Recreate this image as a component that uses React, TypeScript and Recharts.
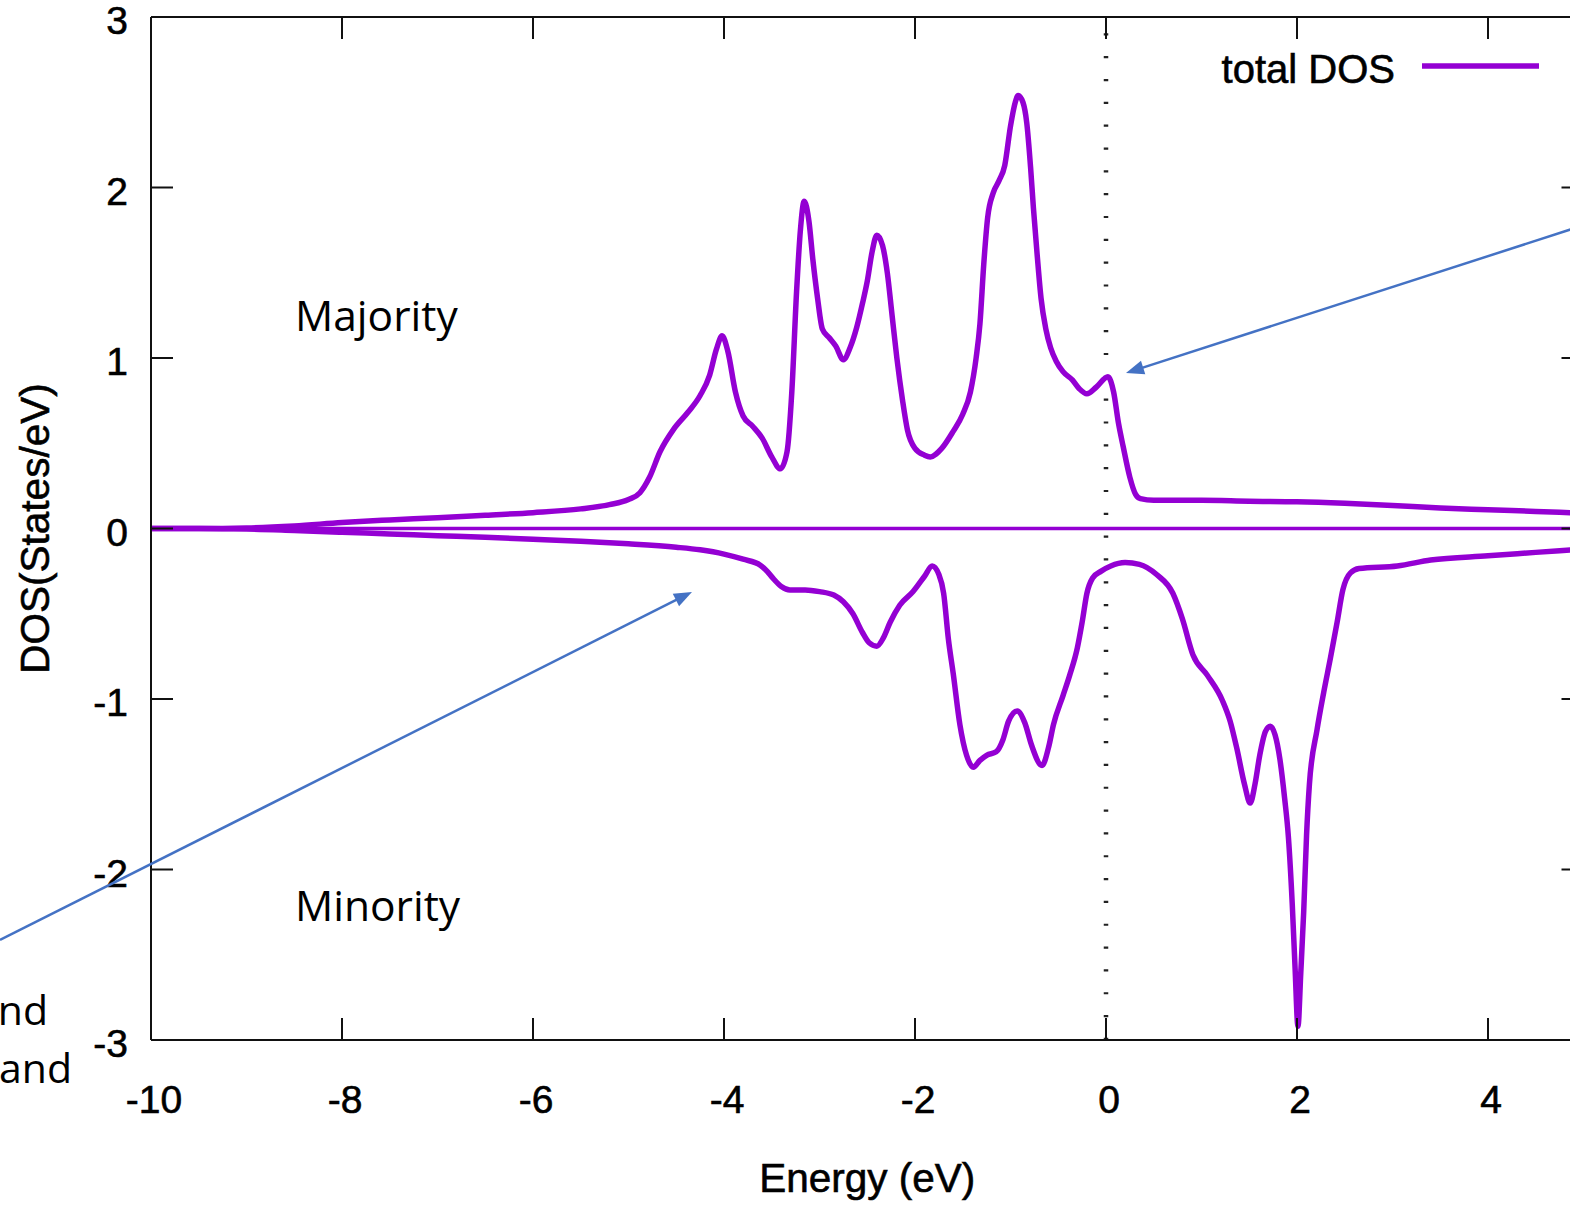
import React from 'react';
import { LineChart, Line, XAxis, YAxis, ReferenceLine, Legend } from 'recharts';

// ---- data ----
const majorityEnergy = [
  -10, -9.5, -9.0, -8.5, -8.0, -7.5, -7.0, -6.5, -6.0, -5.5, -5.2, -5.0, -4.88, -4.78, -4.67, -4.53, -4.38, -4.25,
  -4.15, -4.08, -4.02, -3.96, -3.88, -3.8, -3.7, -3.6, -3.5, -3.41, -3.34, -3.29, -3.24, -3.2, -3.16, -3.11, -3.07,
  -3.02, -2.97, -2.9, -2.83, -2.75, -2.68, -2.61, -2.55, -2.5, -2.45, -2.4, -2.34, -2.29, -2.24, -2.19, -2.13, -2.08,
  -2.0, -1.9, -1.84, -1.72, -1.6, -1.5, -1.42, -1.36, -1.32, -1.28, -1.24, -1.18, -1.12, -1.06, -1.0, -0.95, -0.92,
  -0.87, -0.83, -0.79, -0.76, -0.72, -0.68, -0.63, -0.58, -0.52, -0.45, -0.35, -0.28, -0.2, -0.1, 0.02, 0.08, 0.13,
  0.18, 0.25, 0.31, 0.36, 0.5, 1.0, 1.5, 2.0, 2.5, 3.0, 3.5, 4.0, 4.5, 5.0,
];
const majorityDOS = [
  0, 0, 0.003, 0.015, 0.035, 0.05, 0.063, 0.078, 0.093, 0.115, 0.14, 0.17, 0.21, 0.3, 0.45, 0.58, 0.68, 0.78,
  0.9, 1.05, 1.13, 1.04, 0.8, 0.66, 0.6, 0.53, 0.42, 0.35, 0.45, 0.8, 1.39, 1.75, 1.92, 1.8, 1.58,
  1.35, 1.17, 1.12, 1.07, 0.99, 1.06, 1.18, 1.32, 1.45, 1.62, 1.72, 1.66, 1.5, 1.25, 1.0, 0.75, 0.58,
  0.47, 0.43, 0.42, 0.47, 0.57, 0.67, 0.8, 1.0, 1.2, 1.55, 1.82, 1.97, 2.04, 2.13, 2.36, 2.5, 2.54,
  2.5, 2.38, 2.12, 1.88, 1.6, 1.35, 1.17, 1.06, 0.98, 0.92, 0.87, 0.82, 0.79, 0.83, 0.89, 0.8, 0.62,
  0.48, 0.3, 0.2, 0.175, 0.165, 0.165, 0.16, 0.157, 0.148, 0.135, 0.12, 0.11, 0.1, 0.09,
];
const minorityEnergy = [
  -10, -9.5, -9.0, -8.5, -8.0, -7.5, -7.0, -6.5, -6.0, -5.5, -5.0, -4.5, -4.25, -4.0, -3.8, -3.62, -3.55, -3.49,
  -3.4, -3.31, -3.15, -3.0, -2.85, -2.75, -2.65, -2.55, -2.48, -2.4, -2.33, -2.26, -2.16, -2.02, -1.9, -1.82, -1.75,
  -1.7, -1.65, -1.6, -1.53, -1.46, -1.39, -1.32, -1.25, -1.15, -1.08, -1.02, -0.93, -0.85, -0.78, -0.67, -0.6, -0.55,
  -0.45, -0.38, -0.3, -0.25, -0.2, -0.14, -0.05, 0.05, 0.2, 0.35, 0.53, 0.7, 0.8, 0.91, 1.06, 1.22, 1.3, 1.37, 1.45,
  1.51, 1.56, 1.61, 1.67, 1.72, 1.77, 1.82, 1.87, 1.91, 1.95, 1.98, 2.01, 2.04, 2.07, 2.1, 2.13, 2.21, 2.28, 2.35,
  2.42, 2.48, 2.56, 2.65, 3.05, 3.4, 4.0, 4.5, 5.0,
];
const minorityDOS = [
  0, 0, -0.003, -0.012, -0.022, -0.032, -0.042, -0.052, -0.063, -0.075, -0.09, -0.11, -0.125, -0.15, -0.18, -0.215, -0.25, -0.29,
  -0.34, -0.36, -0.36, -0.37, -0.39, -0.43, -0.5, -0.61, -0.67, -0.69, -0.64, -0.55, -0.45, -0.37, -0.28, -0.22, -0.27,
  -0.38, -0.65, -0.85, -1.15, -1.33, -1.4, -1.36, -1.33, -1.31, -1.24, -1.13, -1.07, -1.14, -1.27, -1.39, -1.28, -1.15,
  -0.98, -0.86, -0.7, -0.55, -0.38, -0.29, -0.25, -0.22, -0.2, -0.21, -0.27, -0.38, -0.53, -0.74, -0.86, -1.01, -1.13, -1.29, -1.5,
  -1.61, -1.5, -1.33, -1.19, -1.16, -1.21, -1.35, -1.58, -1.81, -2.2, -2.58, -2.92, -2.6, -2.25, -1.8, -1.5, -1.18, -0.96, -0.76,
  -0.55, -0.36, -0.26, -0.235, -0.22, -0.185, -0.16, -0.14, -0.12,
];
const xTicks = [-10, -8, -6, -4, -2, 0, 2, 4];
const yTicks = [-3, -2, -1, 0, 1, 2, 3];
const xDomain = [-10, 5];
const yDomain = [-3, 3];

const majorityData = majorityEnergy.map((e, i) => ({ e, dos: majorityDOS[i] }));
const minorityData = minorityEnergy.map((e, i) => ({ e, dos: minorityDOS[i] }));

const PURPLE = '#9400D3';
const BLUE = '#4472C4';
const AXIS = '#111';
const GP_FONT = '"Liberation Sans", Arial, Helvetica, sans-serif';
const OFFICE_FONT = '"Open Sans", "Noto Sans", sans-serif';
const W = 1620;
const H = 1206;
const TICK = 22;
const GP_TEXT = { fontFamily: GP_FONT, fill: '#000', stroke: '#000', strokeWidth: 0.6 };

const BottomTick = (props: any) => {
  const { x, y, payload } = props;
  return (
    <g>
      <line x1={x} x2={x} y1={y} y2={y - TICK} stroke={AXIS} strokeWidth={2} />
      <text x={x + 3} y={y + 73} textAnchor="middle" fontSize={39} {...GP_TEXT}>
        {payload.value}
      </text>
    </g>
  );
};
const TopTick = (props: any) => {
  const { x, y } = props;
  return <line x1={x} x2={x} y1={y} y2={y + TICK} stroke={AXIS} strokeWidth={2} />;
};
const LeftTick = (props: any) => {
  const { x, y, payload } = props;
  return (
    <g>
      <line x1={x} x2={x + TICK} y1={y} y2={y} stroke={AXIS} strokeWidth={2} />
      <text x={x - 23} y={y + 17} textAnchor="end" fontSize={39} {...GP_TEXT}>
        {payload.value}
      </text>
    </g>
  );
};
const RightTick = (props: any) => {
  const { x, y } = props;
  return <line x1={x} x2={x - TICK} y1={y} y2={y} stroke={AXIS} strokeWidth={2} />;
};

const renderLegend = () => (
  <svg width={360} height={80} style={{ display: 'block', overflow: 'visible' }}>
    <text x={215} y={60} textAnchor="end" fontSize={40} {...GP_TEXT}>
      total DOS
    </text>
    <line x1={242} x2={359} y1={43} y2={43} stroke={PURPLE} strokeWidth={5.5} />
  </svg>
);

function arrowHead(sx: number, sy: number, tx: number, ty: number, len = 18, half = 7) {
  const dx = tx - sx;
  const dy = ty - sy;
  const d = Math.hypot(dx, dy);
  const ux = dx / d;
  const uy = dy / d;
  const bx = tx - ux * len;
  const by = ty - uy * len;
  const px = -uy * half;
  const py = ux * half;
  return {
    line: { x1: sx, y1: sy, x2: bx + ux * 2, y2: by + uy * 2 },
    points: `${tx},${ty} ${bx + px},${by + py} ${bx - px},${by - py}`,
  };
}

const arrowUpper = arrowHead(1600, 220, 1126, 373);
const arrowLower = arrowHead(0, 940, 692, 592);

export default function App() {
  return (
    <div
      style={{
        position: 'absolute',
        left: 0,
        top: 0,
        width: 1570,
        height: 1206,
        overflow: 'hidden',
        background: '#fff',
      }}
    >
      <LineChart width={W} height={H} margin={{ top: 7, right: 26.5, bottom: 106, left: 51 }}>
        <XAxis
          dataKey="e"
          type="number"
          domain={xDomain}
          ticks={xTicks}
          interval={0}
          allowDataOverflow
          height={60}
          tickSize={0}
          tickMargin={0}
          tickLine={false}
          tick={<BottomTick />}
          axisLine={{ stroke: AXIS, strokeWidth: 2 }}
          label={{
            content: (p: any) => {
              const vb = p.viewBox || { x: 151, y: 1040, width: 1432 };
              return (
                <text
                  x={vb.x + vb.width / 2}
                  y={vb.y + 152}
                  textAnchor="middle"
                  fontSize={40.5}
                  {...GP_TEXT}
                >
                  Energy (eV)
                </text>
              );
            },
          }}
        />
        <XAxis
          xAxisId="top"
          orientation="top"
          dataKey="e"
          type="number"
          domain={xDomain}
          ticks={xTicks}
          interval={0}
          allowDataOverflow
          height={10}
          tickSize={0}
          tickMargin={0}
          tickLine={false}
          tick={<TopTick />}
          axisLine={{ stroke: AXIS, strokeWidth: 2 }}
        />
        <YAxis
          type="number"
          domain={yDomain}
          ticks={yTicks}
          interval={0}
          allowDataOverflow
          width={100}
          tickSize={0}
          tickMargin={0}
          tickLine={false}
          tick={<LeftTick />}
          axisLine={{ stroke: AXIS, strokeWidth: 2 }}
          label={{
            content: (p: any) => {
              const vb = p.viewBox || { x: 51, y: 17, width: 100, height: 1023 };
              const cx = vb.x - 2;
              const cy = vb.y + vb.height / 2;
              return (
                <text
                  x={cx}
                  y={cy}
                  transform={`rotate(-90, ${cx}, ${cy})`}
                  textAnchor="middle"
                  fontSize={40.5}
                  {...GP_TEXT}
                >
                  DOS(States/eV)
                </text>
              );
            },
          }}
        />
        <YAxis
          yAxisId="right"
          orientation="right"
          type="number"
          domain={yDomain}
          ticks={yTicks}
          interval={0}
          allowDataOverflow
          width={10}
          tickSize={0}
          tickMargin={0}
          tickLine={false}
          tick={<RightTick />}
          axisLine={{ stroke: AXIS, strokeWidth: 2 }}
        />
        <ReferenceLine x={0} stroke="#222" strokeWidth={4.5} strokeDasharray="2.2 20.63" />
        <ReferenceLine y={0} stroke={PURPLE} strokeWidth={3.5} />
        <Line
          data={majorityData}
          dataKey="dos"
          type="monotone"
          stroke={PURPLE}
          strokeWidth={5.5}
          dot={false}
          activeDot={false}
          isAnimationActive={false}
          name="total DOS"
        />
        <Line
          data={minorityData}
          dataKey="dos"
          type="monotone"
          stroke={PURPLE}
          strokeWidth={5.5}
          dot={false}
          activeDot={false}
          isAnimationActive={false}
          name="total DOS minority"
          legendType="none"
        />
        <Legend
          layout="vertical"
          align="center"
          verticalAlign="middle"
          content={renderLegend}
          wrapperStyle={{ left: 1180, top: 23, width: 360, height: 80 }}
        />
      </LineChart>
      <svg
        width={1570}
        height={1206}
        style={{ position: 'absolute', left: 0, top: 0, pointerEvents: 'none' }}
      >
        <text x={295} y={331} fontSize={42.5} fontFamily={OFFICE_FONT} fill="#000">
          Majority
        </text>
        <text x={295} y={921} fontSize={42.5} fontFamily={OFFICE_FONT} fill="#000">
          Minority
        </text>
        <text x={48} y={1025} textAnchor="end" fontSize={41} fontFamily={OFFICE_FONT} fill="#000">
          nd
        </text>
        <text x={72} y={1083} textAnchor="end" fontSize={41} fontFamily={OFFICE_FONT} fill="#000">
          and
        </text>
        <line {...arrowUpper.line} stroke={BLUE} strokeWidth={2.5} />
        <polygon points={arrowUpper.points} fill={BLUE} />
        <line {...arrowLower.line} stroke={BLUE} strokeWidth={2.5} />
        <polygon points={arrowLower.points} fill={BLUE} />
      </svg>
    </div>
  );
}
